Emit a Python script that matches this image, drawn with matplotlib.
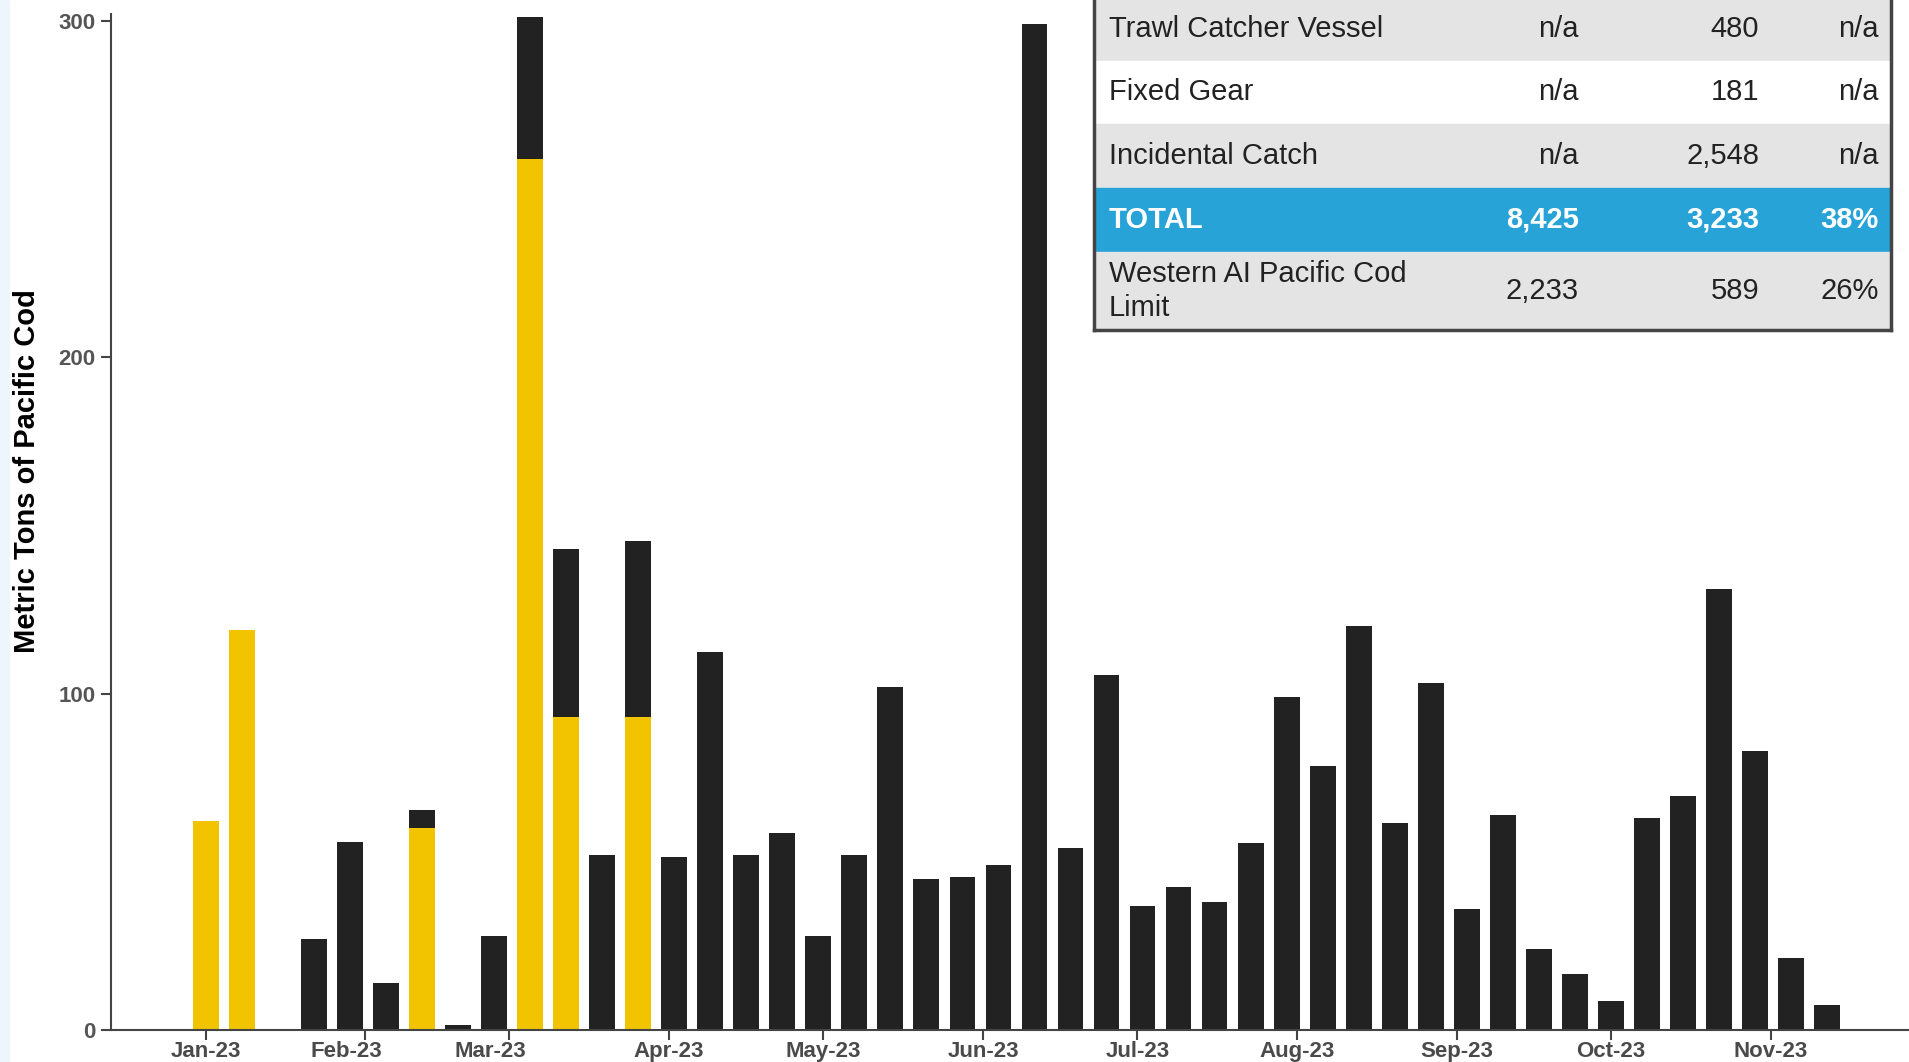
#!/usr/bin/env python3
"""Weekly Western AI Pacific cod catch, stacked bars with a summary table."""

import datetime as dt
import matplotlib
matplotlib.use("Agg")
import matplotlib.pyplot as plt
import matplotlib.dates as mdates
import matplotlib.transforms as mtransforms
from matplotlib.patches import Rectangle

plt.rcParams['font.family'] = ['Liberation Sans', 'DejaVu Sans']

# Week dates (one bar per week, week of Jan 15 has no catch)
weeks = ['2023-01-01', '2023-01-08', '2023-01-22', '2023-01-29', '2023-02-05',
         '2023-02-12', '2023-02-19', '2023-02-26', '2023-03-05', '2023-03-12',
         '2023-03-19', '2023-03-26', '2023-04-02', '2023-04-09', '2023-04-16',
         '2023-04-23', '2023-04-30', '2023-05-07', '2023-05-14', '2023-05-21',
         '2023-05-28', '2023-06-04', '2023-06-11', '2023-06-18', '2023-06-25',
         '2023-07-02', '2023-07-09', '2023-07-16', '2023-07-23', '2023-07-30',
         '2023-08-06', '2023-08-13', '2023-08-20', '2023-08-27', '2023-09-03',
         '2023-09-10', '2023-09-17', '2023-09-24', '2023-10-01', '2023-10-08',
         '2023-10-15', '2023-10-22', '2023-10-29', '2023-11-05', '2023-11-12']

# Metric tons, yellow segment (bottom) and black segment (stacked on top)
yellow_mt = [62, 119, 0, 0, 0, 60, 0, 0, 259, 93, 0, 93, 0, 0, 0,
             0, 0, 0, 0, 0, 0, 0, 0, 0, 0, 0, 0, 0, 0, 0,
             0, 0, 0, 0, 0, 0, 0, 0, 0, 0, 0, 0, 0, 0, 0]
black_mt = [0, 0, 27, 56, 14, 5.5, 1.5, 28, 42, 50, 52, 52.5, 51.5, 112.5, 52,
            58.5, 28, 52, 102, 45, 45.5, 49, 299, 54, 105.5, 37, 42.5, 38, 55.5, 99,
            78.5, 120, 61.5, 103, 36, 64, 24, 16.5, 8.5, 63, 69.5, 131, 83, 21.5, 7.5]

# Month tick labels (Feb and Mar labels sit a little left of their ticks)
month_ticks = ['2023-01-01', '2023-02-01', '2023-03-01', '2023-04-01', '2023-05-01',
               '2023-06-01', '2023-07-01', '2023-08-01', '2023-09-01', '2023-10-01',
               '2023-11-01']
month_labels = ['Jan-23', 'Feb-23', 'Mar-23', 'Apr-23', 'May-23', 'Jun-23',
                'Jul-23', 'Aug-23', 'Sep-23', 'Oct-23', 'Nov-23']
label_shift_px = {'Feb-23': -19, 'Mar-23': -19}

# Summary table
row_labels = ['Trawl Catcher Vessel', 'Fixed Gear', 'Incidental Catch', 'TOTAL',
              'Western AI Pacific Cod\nLimit']
col_limit = ['n/a', 'n/a', 'n/a', '8,425', '2,233']
col_catch = ['480', '181', '2,548', '3,233', '589']
col_pct = ['n/a', 'n/a', 'n/a', '38%', '26%']

W, H = 1909, 1062
YELLOW = '#f2c400'
BLACK = '#222222'


def fx(px):
    return px / W


def fy(py):
    return 1 - py / H


def to_date(s):
    return dt.datetime.strptime(s, '%Y-%m-%d')


fig = plt.figure(figsize=(W / 100, H / 100), dpi=100)
fig.patches.append(Rectangle((0, 0), fx(9), 1, transform=fig.transFigure,
                             color='#eef5fc', zorder=0))

ax = fig.add_axes([fx(111), fy(1030), 1 - fx(111), fy(14) - fy(1030)])

dates = [to_date(d) for d in weeks]
ax.bar(dates, yellow_mt, width=5, color=YELLOW, zorder=2)
ax.bar(dates, black_mt, width=5, bottom=yellow_mt, color=BLACK, zorder=2)

jan1 = mdates.date2num(dt.datetime(2023, 1, 1))
ax.set_xlim(jan1 - 18.4, jan1 + 330.9)
ax.set_ylim(0, 302)
ax.set_yticks([0, 100, 200, 300])

tick_dates = [to_date(d) for d in month_ticks]
ax.set_xticks(tick_dates)
ax.set_xticklabels([''] * len(tick_dates))
for d, lab in zip(tick_dates, month_labels):
    trans = mtransforms.offset_copy(ax.get_xaxis_transform(), fig=fig,
                                    x=label_shift_px.get(lab, 0), y=-11,
                                    units='dots')
    ax.text(d, 0, lab, transform=trans, ha='center', va='top', fontsize=16,
            fontweight='bold', color='#4a4a4a', clip_on=False)

for side in ['top', 'right']:
    ax.spines[side].set_visible(False)
for side in ['left', 'bottom']:
    ax.spines[side].set_color('#444444')
    ax.spines[side].set_linewidth(1.5)

ax.tick_params(axis='y', length=7, width=1.5, color='#444444', pad=4,
               labelsize=16, labelcolor='#555555')
ax.tick_params(axis='x', length=7, width=1.5, color='#444444')
for lbl in ax.get_yticklabels():
    lbl.set_fontweight('bold')

fig.text(fx(27), fy(471), 'Metric Tons of Pacific Cod', rotation=90,
         ha='center', va='center', fontsize=21, fontweight='bold', color='black')

# Table drawn in figure pixel coordinates
tx0, tx1 = 1094, 1891
row_edges = [-3, 61, 124, 188, 252, 330]
row_colors = ['#e4e4e4', '#ffffff', '#e4e4e4', '#27a3d7', '#e4e4e4']
for i, lab in enumerate(row_labels):
    top, bot = row_edges[i], row_edges[i + 1]
    fig.patches.append(Rectangle((fx(tx0), fy(bot)), fx(tx1) - fx(tx0),
                                 fy(top) - fy(bot), transform=fig.transFigure,
                                 color=row_colors[i], zorder=3))
    is_total = lab == 'TOTAL'
    color = 'white' if is_total else '#222222'
    weight = 'bold' if is_total else 'normal'
    yc = fy((top + bot) / 2)
    kw = dict(va='center', fontsize=21, color=color, fontweight=weight, zorder=4,
              linespacing=1.3)
    fig.text(fx(1109), yc, lab, ha='left', **kw)
    fig.text(fx(1579), yc, col_limit[i], ha='right', **kw)
    fig.text(fx(1759), yc, col_catch[i], ha='right', **kw)
    fig.text(fx(1879), yc, col_pct[i], ha='right', **kw)

border = dict(transform=fig.transFigure, color='#444444', linewidth=2.5, zorder=5)
fig.add_artist(plt.Line2D([fx(tx0), fx(tx0)], [fy(-5), fy(330)], **border))
fig.add_artist(plt.Line2D([fx(tx1), fx(tx1)], [fy(-5), fy(330)], **border))
fig.add_artist(plt.Line2D([fx(tx0), fx(tx1)], [fy(330), fy(330)], **border))

fig.savefig('out.png', dpi=100)
